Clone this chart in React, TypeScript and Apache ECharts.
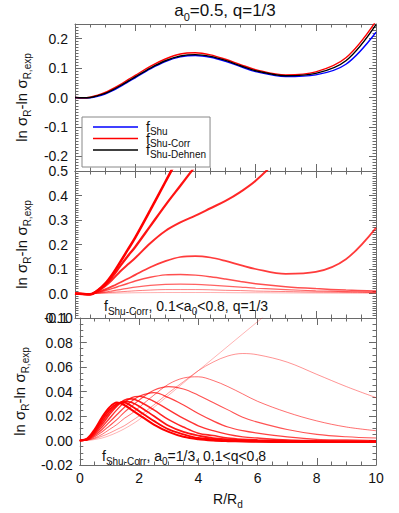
import React, { useEffect, useRef } from "react";
import * as echarts from "echarts";

// Radius grid R/Rd
const R = [0, 0.25, 0.5, 0.75, 1, 1.25, 1.5, 1.75, 2, 2.5, 3, 3.5, 4, 4.5, 5, 5.5, 6, 7, 8, 9, 10];

// Panel 1: a0=0.5, q=1/3
const fShu = [0, -0.002, -0.001, 0.004, 0.012, 0.023, 0.037, 0.052, 0.067, 0.097, 0.122, 0.138, 0.143, 0.137, 0.123, 0.105, 0.088, 0.071, 0.077, 0.113, 0.222];
const fShuCorr = [0, -0.001, 0.001, 0.008, 0.017, 0.03, 0.044, 0.06, 0.075, 0.106, 0.131, 0.148, 0.152, 0.145, 0.13, 0.112, 0.095, 0.077, 0.087, 0.135, 0.26];
const fShuDehnen = [0, -0.001, 0, 0.006, 0.014, 0.026, 0.04, 0.055, 0.07, 0.1, 0.125, 0.141, 0.146, 0.14, 0.126, 0.108, 0.091, 0.074, 0.082, 0.125, 0.248];

// Panel 2: fShu-Corr, 0.1<a0<0.8, q=1/3
const a0Labels = ["0.1", "0.2", "0.3", "0.4", "0.5", "0.6", "0.7", "0.8"];
const a0_01 = [0, 0, -0.0005, 0, 0.001, 0.0015, 0.002, 0.0025, 0.003, 0.0035, 0.004, 0.004, 0.004, 0.004, 0.0035, 0.003, 0.003, 0.0025, 0.002, 0.0015, 0.001];
const a0_02 = [0, -0.001, -0.001, 0.001, 0.003, 0.005, 0.007, 0.009, 0.011, 0.014, 0.016, 0.016, 0.016, 0.015, 0.013, 0.012, 0.01, 0.008, 0.006, 0.005, 0.004];
const a0_03 = [0, -0.001, -0.002, 0.002, 0.006, 0.011, 0.016, 0.021, 0.026, 0.033, 0.037, 0.038, 0.037, 0.034, 0.03, 0.026, 0.022, 0.016, 0.011, 0.008, 0.006];
const a0_04 = [0, -0.002, -0.002, 0.004, 0.012, 0.021, 0.031, 0.041, 0.051, 0.066, 0.076, 0.078, 0.075, 0.068, 0.059, 0.049, 0.04, 0.028, 0.02, 0.014, 0.01];
const a0_05 = [0, -0.002, -0.002, 0.006, 0.017, 0.03, 0.045, 0.06, 0.076, 0.107, 0.132, 0.149, 0.153, 0.147, 0.133, 0.116, 0.1, 0.08, 0.088, 0.14, 0.268];
const a0_06 = [0, -0.002, -0.003, 0.01, 0.03, 0.058, 0.09, 0.118, 0.145, 0.205, 0.255, 0.29, 0.318, 0.348, 0.378, 0.415, 0.46, 0.58, 0.72, 0.88, 1.05];
const a0_07 = [0, -0.002, -0.003, 0.012, 0.035, 0.07, 0.112, 0.152, 0.19, 0.275, 0.36, 0.44, 0.52, 0.6, 0.68, 0.76, 0.84, 1.0, 1.16, 1.32, 1.48];
const a0_08 = [0, -0.002, -0.004, 0.012, 0.04, 0.08, 0.128, 0.178, 0.228, 0.34, 0.455, 0.57, 0.68, 0.79, 0.9, 1.01, 1.12, 1.34, 1.56, 1.78, 2.0];
const a0Series = [a0_01, a0_02, a0_03, a0_04, a0_05, a0_06, a0_07, a0_08];

// Panel 3: fShu-Corr, a0=1/3, 0.1<q<0.8
const qLabels = ["0.10", "0.18", "0.26", "0.33", "0.41", "0.49", "0.57", "0.64", "0.72", "0.80"];
const q_1 = [0, 0, 0.0008, 0.002, 0.004, 0.0065, 0.0095, 0.013, 0.017, 0.027, 0.037, 0.047, 0.057, 0.067, 0.077, 0.087, 0.097, 0.117, 0.137, 0.157, 0.177];
const q_2 = [0, 0.0003, 0.0015, 0.0035, 0.006, 0.009, 0.012, 0.016, 0.02, 0.029, 0.039, 0.048, 0.057, 0.064, 0.069, 0.071, 0.07, 0.064, 0.054, 0.044, 0.035];
const q_3 = [0, 0.0004, 0.002, 0.005, 0.009, 0.013, 0.018, 0.022, 0.027, 0.037, 0.046, 0.051, 0.052, 0.049, 0.044, 0.038, 0.032, 0.023, 0.016, 0.011, 0.008];
const q_4 = [0, 0.0005, 0.003, 0.007, 0.012, 0.017, 0.023, 0.028, 0.033, 0.041, 0.044, 0.042, 0.037, 0.031, 0.025, 0.019, 0.015, 0.009, 0.005, 0.003, 0.002];
const q_5 = [0, 0.0006, 0.004, 0.009, 0.015, 0.021, 0.027, 0.032, 0.036, 0.039, 0.035, 0.029, 0.022, 0.016, 0.011, 0.008, 0.006, 0.003, 0.001, 0.0005, 0];
const q_6 = [0, 0.0008, 0.005, 0.011, 0.018, 0.025, 0.031, 0.035, 0.036, 0.032, 0.025, 0.018, 0.012, 0.008, 0.005, 0.003, 0.002, 0.0005, 0, -0.0003, -0.0005];
const q_7 = [0, 0.0009, 0.006, 0.013, 0.021, 0.028, 0.033, 0.034, 0.032, 0.025, 0.017, 0.011, 0.006, 0.004, 0.002, 0.001, 0.0005, 0, -0.0005, -0.0007, -0.0008];
const q_8 = [0, 0.001, 0.007, 0.015, 0.023, 0.029, 0.032, 0.031, 0.028, 0.02, 0.012, 0.007, 0.004, 0.002, 0.001, 0.0003, 0, -0.0005, -0.0008, -0.001, -0.001];
const q_9 = [0, 0.0012, 0.008, 0.017, 0.025, 0.03, 0.031, 0.028, 0.024, 0.016, 0.009, 0.005, 0.002, 0.001, 0, -0.0003, -0.0006, -0.001, -0.001, -0.001, -0.001];
const q_10 = [0, 0.0015, 0.009, 0.019, 0.027, 0.031, 0.029, 0.025, 0.021, 0.013, 0.007, 0.003, 0.001, 0, -0.0005, -0.0008, -0.001, -0.0012, -0.0012, -0.0012, -0.0012];
const qSeries = [q_1, q_2, q_3, q_4, q_5, q_6, q_7, q_8, q_9, q_10];

const xTicks = [0, 2, 4, 6, 8, 10];

const FONT = "Liberation Sans, Arial, Helvetica, sans-serif";
const AX = "#6a6a6a";

const pairs = (ys: number[]) => R.map((r, i) => [r, ys[i]]);

const subRich = {
  s: { fontSize: 10, lineHeight: 10, verticalAlign: "bottom" as const, fontFamily: FONT, color: "#111" },
};

function xAx(grid: number, top: boolean, labels: boolean) {
  return {
    type: "value",
    gridIndex: grid,
    position: top ? "top" : "bottom",
    min: 0,
    max: 10,
    interval: 2,
    axisLine: { show: true, onZero: false, lineStyle: { color: AX, width: 1 } },
    axisTick: { show: true, inside: true, length: 7, lineStyle: { color: AX } },
    minorTick: { show: true, splitNumber: 4, length: 3.5, lineStyle: { color: AX } },
    splitLine: { show: false },
    axisLabel: {
      show: labels,
      margin: 6,
      fontSize: 14,
      fontFamily: FONT,
      color: "#111",
      formatter: (v: number) => (xTicks.includes(v) ? String(v) : ""),
    },
    name: labels ? "R/R{s|d}" : "",
    nameLocation: "middle",
    nameGap: 24,
    nameTextStyle: { fontSize: 14, lineHeight: 20, fontFamily: FONT, color: "#111", rich: subRich },
  };
}

function yAx(grid: number, right: boolean, min: number, max: number, interval: number | undefined, minor: number, dec: number) {
  return {
    type: "value",
    gridIndex: grid,
    position: right ? "right" : "left",
    min,
    max,
    interval,
    splitNumber: 5,
    axisLine: { show: true, onZero: false, lineStyle: { color: AX, width: 1 } },
    axisTick: { show: true, inside: true, length: 7, lineStyle: { color: AX } },
    minorTick: { show: true, splitNumber: minor, length: 3.5, lineStyle: { color: AX } },
    splitLine: { show: false },
    axisLabel: {
      show: !right,
      margin: 7,
      fontSize: 14,
      fontFamily: FONT,
      color: "#111",
      showMinLabel: interval !== undefined,
      showMaxLabel: interval !== undefined,
      formatter: (v: number) => {
        const k = Math.pow(10, dec);
        const step = interval ?? 0.1;
        const n = v / step;
        return Math.abs(n - Math.round(n)) < 1e-6 ? (Math.round(v * k) / k).toFixed(dec) : "";
      },
    },
    name: right ? "" : "ln σ{s|R}-ln σ{s|R,exp}",
    nameLocation: "middle",
    nameGap: 33,
    nameTextStyle: { fontSize: 15, lineHeight: 22, fontFamily: FONT, color: "#111", rich: subRich },
  };
}

export default function App() {
  const ref = useRef<HTMLDivElement>(null);
  useEffect(() => {
    if (!ref.current) return;
    const chart = echarts.init(ref.current, undefined, { renderer: "svg" });

    const series: any[] = [];
    const p1 = [
      { name: "fShu", data: fShu, color: "#0000ff" },
      { name: "fShu-Corr", data: fShuCorr, color: "#ff0000" },
      { name: "fShu-Dehnen", data: fShuDehnen, color: "#000000" },
    ];
    p1.forEach((s) =>
      series.push({
        type: "line",
        name: s.name,
        xAxisIndex: 0,
        yAxisIndex: 0,
        data: pairs(s.data),
        smooth: 0.35,
        symbol: "none",
        color: s.color,
        lineStyle: { color: s.color, width: 1.4 },
      })
    );
    a0Series.forEach((d, i) =>
      series.push({
        type: "line",
        name: "a0=" + a0Labels[i],
        xAxisIndex: 2,
        yAxisIndex: 2,
        data: pairs(d),
        smooth: 0.35,
        symbol: "none",
        lineStyle: { color: "#ff0000", width: 0.7 + i * 0.26, opacity: 0.45 + i * 0.08 },
      })
    );
    qSeries.forEach((d, i) =>
      series.push({
        type: "line",
        name: "q=" + qLabels[i],
        xAxisIndex: 4,
        yAxisIndex: 4,
        data: pairs(d),
        smooth: 0.35,
        symbol: "none",
        lineStyle: { color: "#ff0000", width: 0.6 + i * 0.16, opacity: 0.5 + i * 0.06 },
      })
    );

    const textStyleBase = { fontFamily: FONT, fill: "#111" };
    const gSub = { s: { fontSize: 10, lineHeight: 10, verticalAlign: "bottom", fontFamily: FONT, fill: "#111" } };

    chart.setOption({
      animation: false,
      grid: [
        { left: 75, top: 24, width: 301, height: 147 },
        { left: 75, top: 171, width: 301, height: 147 },
        { left: 75, top: 318, width: 301, height: 147 },
      ],
      xAxis: [xAx(0, false, false), xAx(0, true, false), xAx(1, false, false), xAx(1, true, false), xAx(2, false, true), xAx(2, true, false)],
      yAxis: [
        yAx(0, false, -0.25, 0.25, undefined, 10, 1),
        yAx(0, true, -0.25, 0.25, undefined, 10, 1),
        yAx(1, false, -0.1, 0.5, 0.1, 10, 1),
        yAx(1, true, -0.1, 0.5, 0.1, 10, 1),
        yAx(2, false, -0.02, 0.1, 0.02, 4, 2),
        yAx(2, true, -0.02, 0.1, 0.02, 4, 2),
      ],
      legend: {
        data: ["fShu", "fShu-Corr", "fShu-Dehnen"],
        orient: "vertical",
        left: 82,
        top: 117,
        icon: "rect",
        itemWidth: 45,
        itemHeight: 1.4,
        itemStyle: { borderWidth: 0 },
        itemGap: -8.5,
        padding: [0, 4, 7, 11],
        borderColor: "#888",
        borderWidth: 1,
        formatter: (n: string) => "f{s|" + n.slice(1) + "}",
        textStyle: {
          fontSize: 14,
          lineHeight: 20,
          fontFamily: FONT,
          color: "#111",
          padding: [0, 0, 0, 3],
          rich: { s: { fontSize: 10, lineHeight: 10, verticalAlign: "bottom", fontFamily: FONT, color: "#111" } },
        },
      },
      graphic: [
        {
          type: "text",
          x: 225,
          y: 10,
          style: {
            ...textStyleBase,
            text: "a{s|0}=0.5, q=1/3",
            fontSize: 17,
            lineHeight: 24,
            align: "center",
            verticalAlign: "middle",
            rich: { s: { fontSize: 11, lineHeight: 11, verticalAlign: "bottom", fontFamily: FONT, fill: "#111" } },
          },
        },
        {
          type: "text",
          x: 104,
          y: 306,
          style: {
            ...textStyleBase,
            text: "f{s|Shu-Corr}, 0.1<a{s|0}<0.8, q=1/3",
            fontSize: 14,
            lineHeight: 20,
            align: "left",
            verticalAlign: "middle",
            rich: gSub,
          },
        },
        {
          type: "text",
          x: 102,
          y: 456,
          style: {
            ...textStyleBase,
            text: "f{s|Shu-Corr}, a{s|0}=1/3, 0.1<q<0.8",
            fontSize: 14,
            lineHeight: 20,
            align: "left",
            verticalAlign: "middle",
            rich: gSub,
          },
        },
      ],
      series,
    });
    return () => chart.dispose();
  }, []);
  return <div ref={ref} style={{ position: "fixed", left: 0, top: 0, width: 399, height: 513, background: "#fff" }} />;
}
